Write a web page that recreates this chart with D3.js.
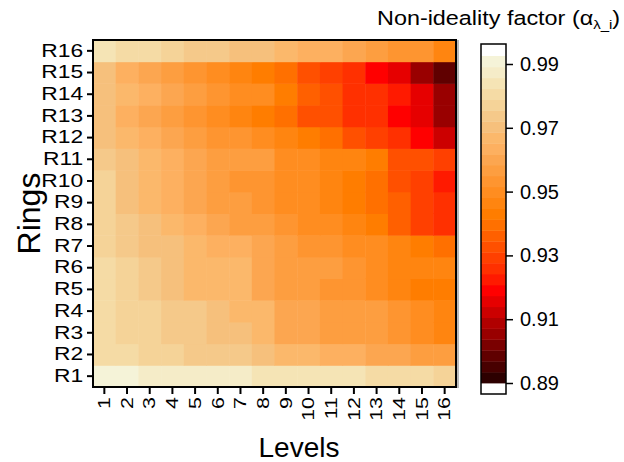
<!DOCTYPE html>
<html>
<head>
<meta charset="utf-8">
<script src="https://cdn.jsdelivr.net/npm/d3@7"></script>
<style>
  body { margin: 0; background: #fff; }
  text { font-family: "Liberation Sans", Arial, sans-serif; fill: #000; }
</style>
</head>
<body>
<div id="chart"></div>
<script>
/* global d3 */

// categories
var rings = [ "R1", "R2", "R3", "R4", "R5", "R6", "R7", "R8",
  "R9", "R10", "R11", "R12", "R13", "R14", "R15", "R16" ];
var levels = [ "1", "2", "3", "4", "5", "6", "7", "8",
  "9", "10", "11", "12", "13", "14", "15", "16" ];

// non-ideality factor, one row per ring (R1 first), one value per level
var alphaByRing = [
  [ .991, .991, .987, .987, .987, .987, .987, .984, .984, .984, .984, .984, .981, .981, .981, .977 ],
  [ .981, .981, .977, .977, .974, .974, .974, .970, .967, .967, .963, .963, .960, .960, .957, .957 ],
  [ .981, .977, .977, .974, .974, .970, .970, .967, .960, .960, .957, .957, .957, .953, .950, .946 ],
  [ .981, .977, .977, .974, .974, .970, .967, .967, .960, .960, .957, .957, .957, .953, .950, .946 ],
  [ .981, .977, .974, .970, .967, .967, .967, .960, .957, .957, .953, .953, .950, .946, .943, .943 ],
  [ .981, .977, .974, .970, .967, .967, .967, .960, .957, .957, .957, .953, .950, .946, .946, .946 ],
  [ .977, .974, .970, .970, .967, .963, .963, .960, .957, .953, .953, .950, .950, .946, .943, .940 ],
  [ .977, .974, .970, .967, .963, .960, .957, .957, .953, .950, .950, .946, .943, .936, .929, .926 ],
  [ .977, .970, .967, .963, .960, .957, .957, .953, .950, .950, .946, .943, .940, .936, .929, .926 ],
  [ .977, .970, .967, .963, .960, .957, .953, .953, .950, .950, .946, .943, .940, .933, .929, .922 ],
  [ .974, .970, .967, .963, .960, .957, .957, .957, .950, .950, .946, .946, .943, .933, .933, .929 ],
  [ .970, .967, .963, .960, .957, .953, .953, .950, .946, .943, .940, .933, .929, .926, .919, .912 ],
  [ .970, .963, .960, .957, .953, .950, .946, .943, .940, .933, .933, .926, .926, .919, .916, .905 ],
  [ .970, .967, .963, .960, .957, .953, .950, .950, .943, .936, .933, .926, .926, .922, .916, .905 ],
  [ .970, .963, .960, .957, .953, .950, .946, .943, .940, .933, .929, .926, .919, .916, .905, .899 ],
  [ .984, .981, .981, .977, .974, .974, .970, .970, .967, .963, .963, .960, .957, .953, .953, .946 ]
];

// colour key: 30 steps from dark to light
var keyColors = [
  "#2d0000", "#480000", "#600000", "#7a0000", "#990000", "#b00000",
  "#cc0000", "#e60000", "#ff0000", "#ff1a00", "#ff3000", "#ff4000",
  "#ff5000", "#ff6000", "#ff7000", "#ff7d00", "#ff8510", "#ff8d20",
  "#fe9530", "#fd9e40", "#fca650", "#fdb060", "#fbb86b", "#f6c07c",
  "#f5c98a", "#f5d398", "#f5dba5", "#f5e4b5", "#f5ecc8", "#f5f3d8"
];
var keyDomain = [ 0.89, 0.9925 ];
var keyTicks = [ 0.89, 0.91, 0.93, 0.95, 0.97, 0.99 ];

var width = 624, height = 462;
var plot = { left: 93, right: 456, top: 40, bottom: 387 };

var svg = d3.select( "#chart" ).append( "svg" )
  .attr( "width", width )
  .attr( "height", height );

var x = d3.scaleBand().domain( levels ).range( [ plot.left, plot.right ] );
var y = d3.scaleBand().domain( rings ).range( [ plot.bottom, plot.top ] );
var color = d3.scaleQuantize().domain( keyDomain ).range( keyColors );

// flatten to cells
var cells = [];
alphaByRing.forEach( function( row, i ) {
  row.forEach( function( v, j ) {
    cells.push( { ring: rings[ i ], level: levels[ j ], value: v } );
  } );
} );

svg.append( "g" ).selectAll( "rect" )
  .data( cells )
  .enter().append( "rect" )
    .attr( "x", d => x( d.level ) )
    .attr( "y", d => y( d.ring ) )
    .attr( "width", x.bandwidth() + 0.5 )
    .attr( "height", y.bandwidth() + 0.5 )
    .attr( "fill", d => color( d.value ) );

// frame
svg.append( "rect" )
  .attr( "x", plot.left )
  .attr( "y", plot.top )
  .attr( "width", plot.right - plot.left )
  .attr( "height", plot.bottom - plot.top )
  .attr( "fill", "none" )
  .attr( "stroke", "#000" )
  .attr( "stroke-width", 2 );
svg.append( "line" )
  .attr( "x1", plot.right + 2 ).attr( "x2", plot.right + 2 )
  .attr( "y1", plot.top ).attr( "y2", plot.bottom + 1 )
  .attr( "stroke", "#777" )
  .attr( "stroke-width", 1 );

// y axis
var yAxis = svg.append( "g" )
  .attr( "transform", "translate(" + plot.left + ",0)" )
  .call( d3.axisLeft( y ).tickSize( 6 ).tickPadding( 4 ) );
yAxis.select( ".domain" ).remove();
yAxis.selectAll( "line" ).attr( "stroke", "#000" ).attr( "stroke-width", 2 );
yAxis.selectAll( "text" )
  .attr( "font-size", 18 )
  .attr( "font-family", null )
  .attr( "transform", "translate(-11,0) scale(1.27,1) translate(11,0)" );

// x axis
var xAxis = svg.append( "g" )
  .attr( "transform", "translate(0," + plot.bottom + ")" )
  .call( d3.axisBottom( x ).tickSize( 7 ).tickPadding( 4 ) );
xAxis.select( ".domain" ).remove();
xAxis.selectAll( "line" ).attr( "stroke", "#000" ).attr( "stroke-width", 2 );
xAxis.selectAll( "text" )
  .attr( "font-size", 16.5 )
  .attr( "font-family", null )
  .attr( "text-anchor", "end" )
  .attr( "dy", "0.35em" )
  .attr( "x", 0 )
  .attr( "y", 0 )
  .attr( "transform", "translate(0,10) rotate(-90) scale(1.3,1)" );

// axis titles
svg.append( "text" )
  .attr( "transform", "translate(40," + ( plot.top + plot.bottom ) / 2 + ") rotate(-90)" )
  .attr( "text-anchor", "middle" )
  .attr( "font-size", 32 )
  .text( "Rings" );

svg.append( "text" )
  .attr( "x", 299 )
  .attr( "y", 457 )
  .attr( "text-anchor", "middle" )
  .attr( "font-size", 28 )
  .text( "Levels" );

// colour key
var key = { left: 481, width: 25, top: 44, bottom: 394 };
var ky = d3.scaleLinear().domain( [ 0.89, 0.99 ] ).range( [ 383, 64 ] );

svg.append( "rect" )
  .attr( "x", key.left )
  .attr( "y", key.top )
  .attr( "width", key.width )
  .attr( "height", key.bottom - key.top )
  .attr( "fill", "#fff" );

svg.append( "g" ).selectAll( "rect" )
  .data( keyColors )
  .enter().append( "rect" )
    .attr( "x", key.left )
    .attr( "width", key.width )
    .attr( "y", d => ky( color.invertExtent( d )[ 1 ] ) )
    .attr( "height", d => ky( color.invertExtent( d )[ 0 ] ) - ky( color.invertExtent( d )[ 1 ] ) + 0.4 )
    .attr( "fill", d => d );

svg.append( "rect" )
  .attr( "x", key.left )
  .attr( "y", key.top )
  .attr( "width", key.width )
  .attr( "height", key.bottom - key.top )
  .attr( "fill", "none" )
  .attr( "stroke", "#000" )
  .attr( "stroke-width", 1.5 );

var keyAxis = svg.append( "g" )
  .attr( "transform", "translate(" + ( key.left + key.width ) + ",0)" )
  .call( d3.axisRight( ky ).tickValues( keyTicks ).tickFormat( d3.format( ".2f" ) ).tickSize( 7 ).tickPadding( 7 ) );
keyAxis.select( ".domain" ).remove();
keyAxis.selectAll( "line" ).attr( "stroke", "#000" ).attr( "stroke-width", 1.5 );
keyAxis.selectAll( "text" )
  .attr( "font-size", 20 )
  .attr( "font-family", null );

// key title
var title = svg.append( "text" )
  .attr( "transform", "translate(377,25) scale(1.2,1)" )
  .attr( "font-size", 19.5 );
title.append( "tspan" ).text( "Non-ideality factor (α" );
title.append( "tspan" ).attr( "font-size", 12.5 ).attr( "dy", 4 ).text( "λ_i" );
title.append( "tspan" ).attr( "dy", -4 ).text( ")" );
</script>
</body>
</html>
